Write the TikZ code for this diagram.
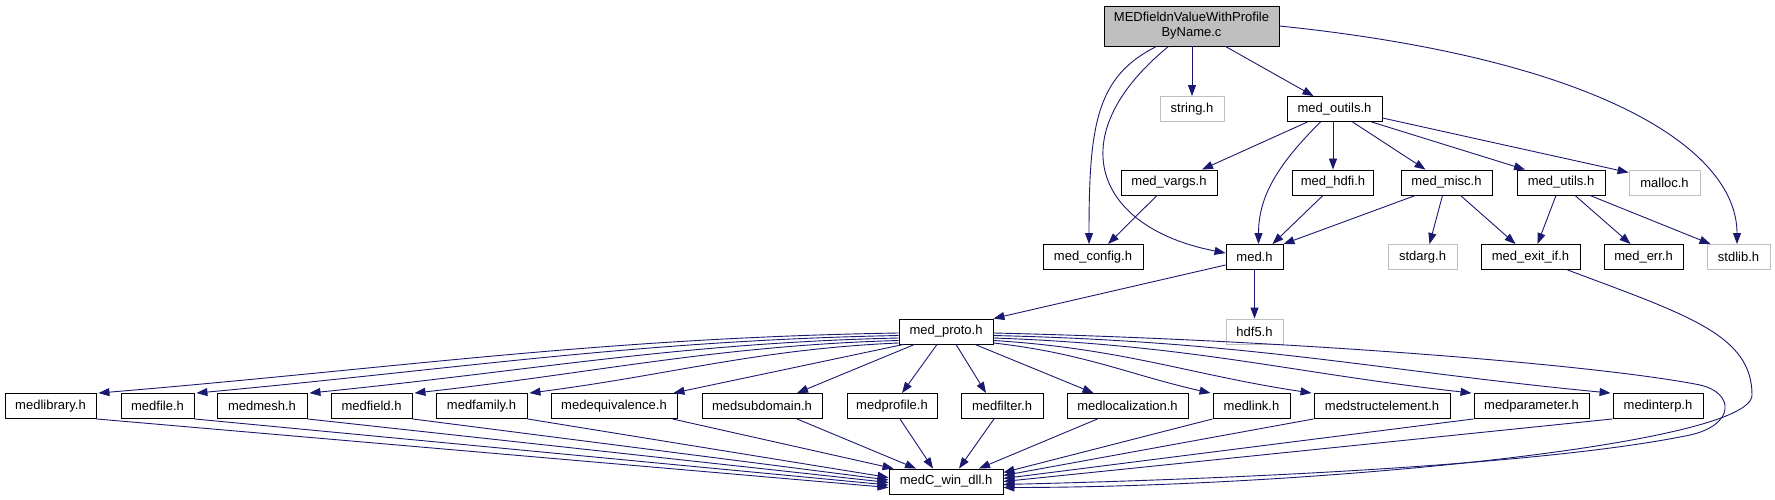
\documentclass[tikz,border=0pt]{standalone}
\usepackage{fontspec}
\setmainfont{Liberation Sans}
\usetikzlibrary{arrows.meta,calc}
\definecolor{edgec}{HTML}{191970}
\definecolor{graybd}{HTML}{BFBFBF}
\begin{document}
\begin{tikzpicture}[x=1pt,y=-1pt,
  box/.style={draw=black, line width=0.9pt, fill=white, inner sep=0pt, minimum height=25pt, font=\fontsize{13}{15}\selectfont, anchor=center},
  gbox/.style={box, draw=graybd},
  edge/.style={draw=edgec, line width=0.9pt, -{Triangle[length=11pt,width=8pt]}},
]
\fill[white] (0,0) rectangle (1775,500);
\useasboundingbox (0,0) rectangle (1775,500);

% nodes
\node[box, fill=graybd, minimum width=175pt, minimum height=40pt, align=center] (top) at (1191.5,26) {MEDfieldnValueWithProfile\\ByName.c};
\node[gbox, minimum width=64pt] (string) at (1192,109) {string.h};
\node[box, minimum width=95pt] (outils) at (1334.5,109) {med\_outils.h};
\node[box, minimum width=96pt] (vargs) at (1169,182.5) {med\_vargs.h};
\node[box, minimum width=81pt] (hdfi) at (1333,182.5) {med\_hdfi.h};
\node[box, minimum width=91pt] (misc) at (1446.5,182.5) {med\_misc.h};
\node[box, minimum width=88pt] (utils) at (1561,182.5) {med\_utils.h};
\node[gbox, minimum width=71pt] (malloc) at (1664.5,182.5) {malloc.h};
\node[box, minimum width=100pt] (config) at (1093,257) {med\_config.h};
\node[box, minimum width=57pt] (med) at (1254.5,257) {med.h};
\node[gbox, minimum width=69pt] (stdarg) at (1422.5,257) {stdarg.h};
\node[box, minimum width=99pt] (exitif) at (1530.5,257) {med\_exit\_if.h};
\node[box, minimum width=79pt] (err) at (1643.5,257) {med\_err.h};
\node[gbox, minimum width=63pt] (stdlib) at (1738.5,257) {stdlib.h};
\node[box, minimum width=94pt] (proto) at (946,331.5) {med\_proto.h};
\node[gbox, minimum width=57pt] (hdf5) at (1254.5,331.5) {hdf5.h};

\node[box, minimum width=91pt] (library) at (50.5,406) {medlibrary.h};
\node[box, minimum width=73pt] (file) at (157.5,406) {medfile.h};
\node[box, minimum width=90pt] (mesh) at (262,406) {medmesh.h};
\node[box, minimum width=81pt] (field) at (371.5,406) {medfield.h};
\node[box, minimum width=91pt] (family) at (481.5,406) {medfamily.h};
\node[box, minimum width=126pt] (equiv) at (614,406) {medequivalence.h};
\node[box, minimum width=120pt] (subdom) at (762,406) {medsubdomain.h};
\node[box, minimum width=90pt] (profile) at (892,406) {medprofile.h};
\node[box, minimum width=82pt] (filter) at (1002,406) {medfilter.h};
\node[box, minimum width=121pt] (local) at (1127.5,406) {medlocalization.h};
\node[box, minimum width=77pt] (link) at (1251.5,406) {medlink.h};
\node[box, minimum width=136pt] (struct) at (1382,406) {medstructelement.h};
\node[box, minimum width=115pt] (param) at (1531.5,406) {medparameter.h};
\node[box, minimum width=90pt] (interp) at (1658,406) {medinterp.h};
\node[box, minimum width=114pt] (dll) at (946,481.5) {medC\_win\_dll.h};

% edges from top
\draw[edge] (top.south -| string.north) -- (string.north);
\draw[edge] ([xshift=34pt]top.south) -- ([xshift=-21pt]outils.north);
\draw[edge] ([xshift=-35pt]top.south) .. controls +(-60,30) and +(0,-120) .. ([xshift=-4pt]config.north);
\draw[edge] ([xshift=-23pt]top.south) .. controls +(-110,90) and +(-130,-25) .. ([yshift=4pt]med.west);
\draw[edge] (top.east) .. controls +(320,33) and +(0,-95) .. ([xshift=-1.5pt]stdlib.north);

% from med_outils
\draw[edge] ([xshift=-27pt]outils.south) -- ([xshift=33pt]vargs.north);
\draw[edge] ([xshift=-14pt]outils.south) .. controls +(-40,40) and +(0,-50) .. ([xshift=4pt]med.north);
\draw[edge] (outils.south -| hdfi.north) -- (hdfi.north);
\draw[edge] ([xshift=18pt]outils.south) -- ([xshift=-21pt]misc.north);
\draw[edge] ([xshift=37pt]outils.south) -- ([xshift=-36pt]utils.north);
\draw[edge] ([yshift=-9pt]outils.east) -- ([yshift=10pt]malloc.west);

% third row
\draw[edge] ([xshift=-12pt]vargs.south) -- ([xshift=15pt]config.north);
\draw[edge] ([xshift=-10pt]hdfi.south) -- ([xshift=18pt]med.north);
\draw[edge] ([xshift=-31pt]misc.south) -- (med.north east);
\draw[edge] ([xshift=-4pt]misc.south) -- ([xshift=7pt]stdarg.north);
\draw[edge] ([xshift=14pt]misc.south) -- ([xshift=-15pt]exitif.north);
\draw[edge] ([xshift=-5pt]utils.south) -- ([xshift=7pt]exitif.north);
\draw[edge] ([xshift=14pt]utils.south) -- ([xshift=-13pt]err.north);
\draw[edge] ([xshift=29pt]utils.south) -- ([xshift=-28pt]stdlib.north);

% med.h
\draw[edge] (med) -- (hdf5);
\draw[edge] ([yshift=-8pt]med.west) -- (proto.north east);

% med_exit_if to dll (outer loop)
\coordinate (exitloop) at (1752,395);
\draw[edge] ([xshift=37pt]exitif.south) .. controls +(120,45) and +(0,-60) .. (exitloop)
  .. controls +(0,50) and +(300,0) .. ([yshift=-6pt]dll.east);

% med_proto to dll (inner loop)
\coordinate (protoloop1) at (1700,385);
\coordinate (protoloop2) at (1690,435);
\draw[edge] ([yshift=-1.5pt]proto.east) .. controls +(300,7) and +(-100,-20) .. (protoloop1)
  .. controls +(35,8) and +(45,-10) .. (protoloop2)
  .. controls +(-140,29) and +(250,-6) .. ([yshift=-3pt]dll.east);

% med_proto to row six, left part
\draw[edge] ([yshift=-1.5pt]proto.west) .. controls +(-300,5) and +(300,-25) .. ([xshift=2pt]library.north east);
\draw[edge] ([yshift=-4pt]proto.west) .. controls +(-260,5) and +(260,-24) .. ([xshift=2pt]file.north east);
\draw[edge] ([yshift=-6.5pt]proto.west) .. controls +(-220,5) and +(220,-22) .. ([xshift=2pt]mesh.north east);
\draw[edge] ([yshift=-9pt]proto.west) .. controls +(-180,5) and +(180,-20) .. ([xshift=2pt]field.north east);
\draw[edge] ([yshift=-11.5pt]proto.west) .. controls +(-140,6) and +(140,-18) .. ([xshift=2pt]family.north east);
\draw[edge] ([xshift=5pt]proto.south west) -- ([xshift=-4pt]equiv.north east);
\draw[edge] ([xshift=16pt]proto.south west) -- ([xshift=35pt]subdom.north);
\draw[edge] ([xshift=-9pt]proto.south) -- ([xshift=10pt]profile.north);
\draw[edge] ([xshift=10pt]proto.south) -- ([xshift=-16pt]filter.north);
\draw[edge] ([xshift=29pt]proto.south) -- ([xshift=-34pt]local.north);

% med_proto to row six, right part
\draw[edge] ([yshift=-11.5pt]proto.east) .. controls +(90,10) and +(-80,-18) .. ([xshift=-2pt]link.north west);
\draw[edge] ([yshift=-9pt]proto.east) .. controls +(130,8) and +(-120,-18) .. ([xshift=-2pt]struct.north west);
\draw[edge] ([yshift=-6.5pt]proto.east) .. controls +(200,7) and +(-180,-20) .. ([xshift=-2pt]param.north west);
\draw[edge] ([yshift=-4pt]proto.east) .. controls +(260,6) and +(-230,-22) .. ([xshift=-2pt]interp.north west);

% row six to dll
\draw[edge] (library.south east) -- ([yshift=-6pt]dll.west);
\draw[edge] (file.south east) -- ([yshift=-3.5pt]dll.west);
\draw[edge] (mesh.south east) -- ([yshift=-1pt]dll.west);
\draw[edge] (field.south east) -- ([yshift=1.5pt]dll.west);
\draw[edge] (family.south east) -- ([yshift=4pt]dll.west);
\draw[edge] ([xshift=-5pt]equiv.south east) -- ([xshift=5pt]dll.north west);
\draw[edge] ([xshift=35pt]subdom.south) -- ([xshift=-30pt]dll.north);
\draw[edge] ([xshift=8pt]profile.south) -- ([xshift=-13pt]dll.north);
\draw[edge] ([xshift=-8pt]filter.south) -- ([xshift=13pt]dll.north);
\draw[edge] ([xshift=-30pt]local.south) -- ([xshift=33pt]dll.north);
\draw[edge] (link.south west) -- ([yshift=9pt]dll.east);
\draw[edge] (struct.south west) -- ([yshift=6pt]dll.east);
\draw[edge] (param.south west) -- ([yshift=3pt]dll.east);
\draw[edge] (interp.south west) -- (dll.east);
\end{tikzpicture}
\end{document}
